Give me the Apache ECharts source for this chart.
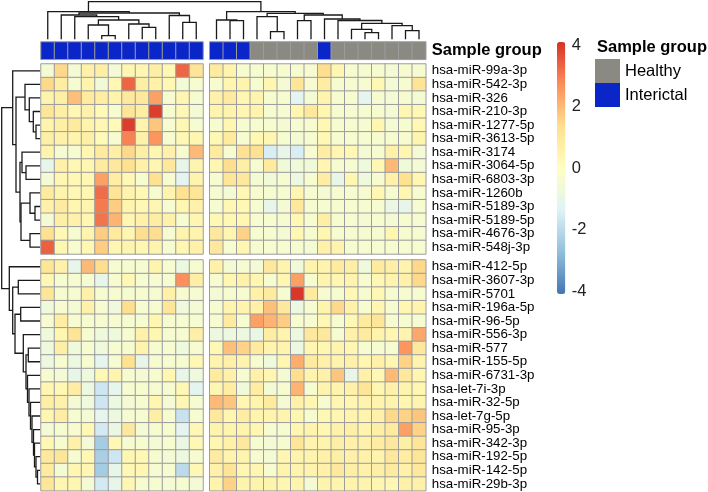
<!DOCTYPE html>
<html><head><meta charset="utf-8">
<script src="https://cdn.jsdelivr.net/npm/echarts@6/dist/echarts.min.js"></script>
<style>html,body{margin:0;padding:0;background:#fff}#c{width:708px;height:492px}</style>
</head><body><div id="c"></div>
<script>
// ---------- DATA ----------
const rowsTop = ['hsa-miR-99a-3p','hsa-miR-542-3p','hsa-miR-326','hsa-miR-210-3p','hsa-miR-1277-5p','hsa-miR-3613-5p','hsa-miR-3174','hsa-miR-3064-5p','hsa-miR-6803-3p','hsa-miR-1260b','hsa-miR-5189-3p','hsa-miR-5189-5p','hsa-miR-4676-3p','hsa-miR-548j-3p'];
const rowsBottom = ['hsa-miR-412-5p','hsa-miR-3607-3p','hsa-miR-5701','hsa-miR-196a-5p','hsa-miR-96-5p','hsa-miR-556-3p','hsa-miR-577','hsa-miR-155-5p','hsa-miR-6731-3p','hsa-let-7i-3p','hsa-miR-32-5p','hsa-let-7g-5p','hsa-miR-95-3p','hsa-miR-342-3p','hsa-miR-192-5p','hsa-miR-142-5p','hsa-miR-29b-3p'];
const groupNames = ['Healthy','Interictal'];
const groupLeft = [1,1,1,1,1,1,1,1,1,1,1,1];
const groupRight = [1,1,1,0,0,0,0,0,1,0,0,0,0,0,0,0];
const colorTicks = [-4,-2,0,2,4];

const valTL = [
[-0.5,1.5,-0.5,0.6,0.7,-0.5,0.4,0.4,0.7,0.3,3.3,1.2],
[1.5,0.8,-0.4,0.5,-0.6,0.3,3.3,0.7,0.6,0.3,-0.5,-0.4],
[0.5,0.7,1.9,0.9,0.8,0.5,1.0,1.0,2.4,-0.4,0.4,-0.4],
[1.1,0.7,0.3,0.6,0.2,-0.4,1.1,0.8,3.9,-0.4,0.3,-0.5],
[0.5,0.7,0.9,0.5,0.3,0.2,3.9,0.5,1.8,-0.4,0.3,-0.4],
[0.7,0.6,0.5,0.7,0.2,-0.4,2.9,0.6,2.6,-0.4,0.3,0.4],
[0.5,-0.4,-0.4,0.4,0.9,0.7,1.5,0.7,0.4,0.6,-0.4,2.0],
[-1.0,0.6,0.3,0.4,0.9,1.0,1.3,0.6,0.4,1.0,-1.0,0.5],
[-0.5,0.4,0.3,0.3,2.4,0.8,0.3,-0.4,1.3,-0.4,-1.2,0.5],
[0.9,0.5,0.3,0.4,3.2,1.2,0.5,0.3,-0.4,0.5,1.3,1.1],
[0.6,0.9,0.4,0.5,3.0,1.7,0.5,0.3,0.4,-0.4,0.4,0.6],
[-0.5,0.7,0.6,0.4,3.1,2.1,0.4,0.6,0.8,0.6,-0.4,0.4],
[1.3,0.3,-0.4,0.5,1.7,0.9,0.4,1.4,1.4,-0.4,0.5,0.5],
[3.4,0.4,-0.4,0.3,1.7,0.4,0.5,0.4,0.5,-0.4,0.4,0.6]];
const valTR = [
[0.9,0.5,-0.4,-0.4,-0.4,-0.4,-0.4,-0.4,1.4,0.4,-0.4,-0.4,-0.4,-0.5,-0.4,-0.4],
[-0.4,0.4,0.5,-0.4,0.4,-0.5,1.1,-0.4,0.8,-0.4,-0.4,-0.4,0.3,-0.5,-0.4,1.2],
[0.6,0.9,0.4,0.5,-0.4,-0.4,-1.2,-0.5,0.5,-0.4,-0.4,-1.1,-0.4,-0.5,-0.4,-0.5],
[0.5,0.5,0.4,0.5,-0.4,-0.4,0.4,1.0,0.4,-0.4,-0.4,-0.4,-0.4,-0.5,0.4,0.3],
[-0.4,0.4,-0.4,-0.4,-0.4,-0.5,-0.4,-0.4,0.3,-0.4,-0.4,-0.4,0.4,-0.5,-0.4,0.3],
[0.3,0.9,-0.4,0.3,0.4,-0.4,-0.5,-0.4,0.3,-0.4,-0.4,-0.4,-0.4,-0.4,-0.4,0.5],
[0.9,-0.4,1.3,1.3,-1.5,-1.0,-1.5,-0.4,0.8,0.4,0.3,-0.5,-0.4,0.6,0.4,-0.5],
[0.4,1.4,0.7,-0.4,0.9,-0.6,-0.6,-0.6,0.4,-0.4,-0.4,-0.7,0.3,2.0,-0.6,-0.5],
[-0.4,1.1,1.0,-0.5,-0.6,-0.4,-0.8,-0.4,0.8,-1.0,0.4,-0.7,-0.4,0.6,1.3,0.4],
[-0.4,-0.5,0.3,-0.4,-0.4,-0.4,0.4,-0.4,-0.5,-0.4,-0.4,-0.4,0.3,-0.4,0.4,-0.4],
[-0.4,0.3,0.3,-0.4,-1.0,-0.5,1.0,-0.4,-0.4,-0.4,-0.4,-0.4,-0.4,-0.9,-1.0,-0.4],
[0.3,0.3,0.4,-0.4,-0.4,-0.4,0.3,-0.4,0.7,-0.4,-0.4,-0.5,-0.4,-0.5,-0.4,-0.4],
[1.0,0.4,1.6,-0.4,-0.4,-0.5,0.3,-0.4,0.4,-0.4,-0.4,-0.4,-0.4,0.4,-0.4,-0.4],
[1.0,-0.4,0.4,-0.4,-0.4,-0.4,-0.4,-0.5,0.6,0.5,-0.4,-0.4,-0.4,-0.4,-0.4,-0.4]];
const valBL = [
[1.1,0.6,-1.0,2.0,1.4,-0.4,-0.4,-0.4,0.5,-0.4,-0.8,-0.4],
[0.3,-0.4,-0.4,-0.4,-1.0,-0.4,0.3,-0.4,-0.4,-0.4,2.7,0.7],
[1.1,-0.4,-0.4,0.6,-0.4,-0.4,-0.4,-0.4,-0.4,0.6,-0.4,-0.4],
[-0.7,-0.4,-0.5,0.6,-0.4,-0.7,1.4,-0.4,-0.4,1.1,-0.7,-0.5],
[-0.4,0.8,-0.4,-0.4,-0.4,-0.4,-0.4,-0.4,0.4,-0.4,-0.4,-0.4],
[-0.7,0.4,1.2,-0.4,-0.7,-0.7,-0.4,0.6,0.4,-0.4,-0.4,0.7],
[-0.7,0.7,-0.7,-0.4,-0.7,-0.4,-0.4,0.5,-0.4,-0.4,-0.7,-0.4],
[-0.8,-0.4,-0.8,-0.4,-1.1,-0.4,1.3,-1.0,-0.4,-0.4,-0.4,0.3],
[-0.4,-0.5,-1.0,-0.7,0.3,0.5,-0.4,-0.5,-0.4,0.4,-1.0,-0.7],
[0.4,0.3,0.8,-0.8,-1.7,-1.1,-0.4,-0.4,-0.4,-0.4,0.3,-1.2],
[0.7,0.6,-0.5,-0.7,-1.7,-0.8,-0.5,-0.4,0.4,-0.5,0.3,-0.4],
[0.4,0.8,-0.4,-0.5,-1.1,-0.8,-0.4,-0.4,0.7,-0.4,-1.8,-0.4],
[-0.5,-0.4,-0.4,0.3,-1.6,-0.9,1.0,-0.5,-0.4,-0.4,-1.2,0.3],
[0.3,-0.4,0.6,-0.5,-2.4,0.3,-0.4,-0.4,-0.5,-0.4,-0.9,0.3],
[1.0,1.1,-0.4,0.3,-2.3,-1.7,0.4,0.3,-0.4,-0.5,-0.8,-0.4],
[0.9,-0.5,0.4,0.4,-2.4,-1.0,0.3,0.4,-0.4,-0.4,-2.0,0.3],
[1.1,0.4,0.4,-0.5,-1.6,-1.0,0.4,-0.4,-0.4,-0.5,-0.4,-0.5]];
const valBR = [
[0.6,-0.5,-0.4,-0.5,1.0,0.5,-0.6,0.5,0.5,0.9,0.7,-0.7,0.9,0.7,0.5,1.5],
[-0.4,0.4,0.6,0.4,-0.4,0.4,2.4,-0.4,0.5,0.4,0.5,-0.4,0.3,0.5,0.6,1.5],
[-0.5,-0.4,-0.4,0.6,0.9,-0.4,4.0,0.9,-0.4,-0.4,0.3,-0.4,0.3,-0.4,-0.4,-0.4],
[-0.4,0.5,0.5,0.6,1.9,1.0,-0.8,-0.4,0.5,1.5,0.6,-0.4,0.4,-0.4,0.4,0.5],
[-0.4,0.9,-0.4,2.4,2.1,1.7,-0.4,-0.4,0.3,-0.4,0.3,0.9,1.1,-0.4,-0.4,-0.4],
[-0.8,-0.8,-0.8,-0.9,0.8,0.5,-0.8,1.0,1.0,-0.4,0.6,0.9,0.5,0.4,0.5,2.3],
[0.3,1.9,1.6,0.9,0.5,0.5,-0.8,0.4,0.4,0.5,0.4,-0.4,-0.4,-0.4,2.6,1.0],
[0.5,0.6,0.5,-0.4,-0.7,0.4,2.2,0.9,0.6,0.5,0.6,0.4,0.6,0.4,1.6,0.5],
[0.9,0.6,-0.4,0.6,0.4,-0.5,1.4,0.5,0.6,1.8,-1.0,0.6,0.3,2.0,1.0,0.4],
[0.4,0.8,-0.6,0.8,-0.5,-0.4,2.1,-0.4,0.5,0.5,0.6,1.1,0.4,0.6,0.5,0.4],
[2.0,1.8,0.4,0.5,0.9,-0.5,0.6,0.4,-0.4,0.4,0.4,0.5,0.5,0.5,0.4,0.5],
[1.0,0.4,0.8,0.5,0.5,0.5,0.4,-0.4,0.3,0.4,0.5,0.5,0.6,1.5,1.6,1.8],
[0.5,0.5,0.5,0.4,-0.4,-0.4,0.4,0.5,0.3,0.6,0.7,0.5,0.7,0.9,2.4,1.6],
[0.4,0.6,1.0,-0.4,-0.5,-0.4,1.1,0.5,0.5,0.7,0.6,0.6,0.8,1.0,0.7,1.1],
[0.9,0.5,0.5,-0.4,-0.5,0.4,0.5,0.5,0.6,0.7,0.6,0.6,0.5,1.0,0.8,1.1],
[0.6,1.2,0.4,0.4,-0.4,0.5,0.5,0.5,0.6,1.0,0.7,0.6,0.7,0.9,0.6,1.0],
[0.5,1.6,0.5,0.5,0.5,0.4,0.5,-0.5,0.5,0.5,0.5,0.5,0.4,0.3,0.6,0.6]];

// Dendrograms: [mergeHeight, left, right]; leaves are column / row indices
const colTreeLeft = [27.6, 0, [26.3, [24.3, 1, [22.6, 2, [19.3, [14.3, 3, [3.6, 4, 5]], [15.3, 6, [12, 7, 8]]]]], [23.8, 9, [17, 10, 11]]]];
const colTreeRight = [27.6, [19.3, 12, [18.6, 13, 14]], [26, [22.6, 15, [7.6, 16, 17]], [24.3, [18.6, 18, 19], [20.3, 20, [18.8, 21, [16, [10, 22, [6.6, 23, 24]], [13.6, 25, [8.6, 26, 27]]]]]]]];
const colTree = [37.6, colTreeLeft, colTreeRight];
const rowTreeTop = [27.3, 0, [24, [15, 1, [10.7, 2, [6.7, 3, [4, 4, 5]]]], [20, [18, 6, [14, 7, 8]], [19, [10, 9, [5, 10, 11]], [10, 12, 13]]]]];
const rowTreeBottom = [30.7, 14, [27.3, [21.7, 15, 16], [25, [19.3, 17, 18], [16.7, 19, [14, [11.7, 20, 21], [12.5, 22, [11, 23, [9.5, 24, [8, 25, [6.5, 26, [5.5, 27, [4, 28, [2.5, 29, 30]]]]]]]]]]]]];
const rowTree = [38.3, rowTreeTop, rowTreeBottom];

// ---------- BUILD ----------
const FONT = "'Liberation Sans', Arial, Helvetica, sans-serif";
const nL = groupLeft.length, nR = groupRight.length;
const colPos = i => (i < nL ? i : i + 0.5);
const rowPos = r => (r < rowsTop.length ? r : r + 0.44);
function dendro(tree, posFn, horiz) {
  const segs = [];
  (function walk(n) {
    if (typeof n === 'number') return { p: posFn(n), h: 0 };
    const a = walk(n[1]), b = walk(n[2]), h = n[0];
    const pts = [[a.p, a.h], [a.p, h], [b.p, h], [b.p, b.h]];
    segs.push({ coords: horiz ? pts.map(q => [q[1], q[0]]) : pts });
    return { p: (a.p + b.p) / 2, h: h };
  })(tree);
  return segs;
}
function cells(mat) { const d = []; mat.forEach((row, r) => row.forEach((v, c) => d.push([c, r, v]))); return d; }
const idx = n => Array.from({ length: n }, (_, i) => 'S' + (i + 1));

const CW = 13.5, RH = 13.57, X0 = 41, XR = X0 + nL * CW + 6.75, Y0 = 64, YB = Y0 + rowsTop.length * RH + 6;
const grids = [
  { left: X0, top: Y0, width: nL * CW, height: rowsTop.length * RH },
  { left: XR, top: Y0, width: nR * CW, height: rowsTop.length * RH },
  { left: X0, top: YB, width: nL * CW, height: rowsBottom.length * RH },
  { left: XR, top: YB, width: nR * CW, height: rowsBottom.length * RH },
  { left: X0, top: 42, width: nL * CW, height: 17.3 },
  { left: XR, top: 42, width: nR * CW, height: 17.3 },
  { left: X0, top: 1.7, width: (nL + nR + 0.5) * CW, height: 37.6 },
  { left: 1.7, top: Y0, width: 38.3, height: (rowsTop.length + rowsBottom.length + 0.44) * RH },
  { left: 557, top: 45, width: 8.3, height: 246 }
];
const noAx = { show: false };
const catX = (n, g) => ({ type: 'category', gridIndex: g, data: idx(n), show: false });
const rowLab = { fontSize: 13.3, color: '#000', fontFamily: FONT, margin: 6, interval: 0 };
const catY = (names, g, showLab, extra) => ({
  type: 'category', gridIndex: g, data: names, inverse: true, position: 'right',
  axisLine: noAx, axisTick: noAx, splitLine: noAx,
  axisLabel: Object.assign({ show: showLab }, rowLab, extra || {})
});
const xAxis = [catX(nL, 0), catX(nR, 1), catX(nL, 2), catX(nR, 3), catX(nL, 4), catX(nR, 5),
  { type: 'value', gridIndex: 6, min: -0.5, max: nL + nR, show: false },
  { type: 'value', gridIndex: 7, min: 0, max: 38.3, inverse: true, show: false },
  { type: 'value', gridIndex: 8, show: false }];
const yAxis = [catY(rowsTop, 0, false), catY(rowsTop, 1, true), catY(rowsBottom, 2, false), catY(rowsBottom, 3, true),
  catY(['Sample group'], 4, false), catY(['Sample group'], 5, true, { fontWeight: 'bold', fontSize: 16.5 }),
  { type: 'value', gridIndex: 6, min: 0, max: 37.6, show: false },
  { type: 'value', gridIndex: 7, min: -0.5, max: rowsTop.length + rowsBottom.length + 0.44 - 0.5, inverse: true, show: false },
  { type: 'value', gridIndex: 8, min: colorTicks[0], max: colorTicks[colorTicks.length - 1], interval: 2, position: 'right',
    axisLine: noAx, axisTick: noAx, splitLine: noAx,
    axisLabel: { fontSize: 16.5, color: '#222', fontFamily: FONT, margin: 6.5 } }];

const cellStyle = { borderColor: '#9c9c9c', borderWidth: 1 };
const heat = (k, data) => ({ type: 'heatmap', xAxisIndex: k, yAxisIndex: k, data: data, itemStyle: cellStyle, emphasis: { disabled: true }, silent: true });
const lineStyle = { color: '#1a1a1a', width: 1.3, opacity: 1 };
const series = [
  heat(0, cells(valTL)), heat(1, cells(valTR)), heat(2, cells(valBL)), heat(3, cells(valBR)),
  heat(4, groupLeft.map((g, c) => [c, 0, g])), heat(5, groupRight.map((g, c) => [c, 0, g])),
  { type: 'lines', coordinateSystem: 'cartesian2d', xAxisIndex: 6, yAxisIndex: 6, polyline: true, silent: true, lineStyle: lineStyle, data: dendro(colTree, colPos, false) },
  { type: 'lines', coordinateSystem: 'cartesian2d', xAxisIndex: 7, yAxisIndex: 7, polyline: true, silent: true, lineStyle: lineStyle, data: dendro(rowTree, rowPos, true) }
];

const chart = echarts.init(document.getElementById('c'), null, { renderer: 'canvas' });
chart.setOption({
  animation: false,
  backgroundColor: '#fff',
  grid: grids,
  xAxis: xAxis,
  yAxis: yAxis,
  visualMap: [
    { type: 'continuous', seriesIndex: [0, 1, 2, 3], min: -4.1, max: 4.1, calculable: false, padding: 0,
      left: 557, top: 42, itemWidth: 8.3, itemHeight: 252, showLabel: false,
      inRange: { color: ['#4575B4', '#91BFDB', '#E0F3F8', '#FFFFBF', '#FEE090', '#FC8D59', '#D73027'] } },
    { type: 'piecewise', seriesIndex: [4, 5], orient: 'vertical', inverse: true, padding: 0, align: 'left',
      left: 595, top: 59, itemWidth: 25, itemHeight: 24, itemGap: 0, itemSymbol: 'rect', textGap: 5,
      selectedMode: false, hoverLink: false,
      textStyle: { fontSize: 16.5, color: '#000', fontFamily: FONT },
      pieces: [{ value: 0, label: groupNames[0], color: '#8a8a83' }, { value: 1, label: groupNames[1], color: '#0b26c8' }] }
  ],
  graphic: [
    { type: 'text', left: 597, top: 39, style: { text: 'Sample group', font: "bold 16.5px 'Liberation Sans', Arial, sans-serif", fill: '#000' } }
  ],
  series: series
});
</script></body></html>
